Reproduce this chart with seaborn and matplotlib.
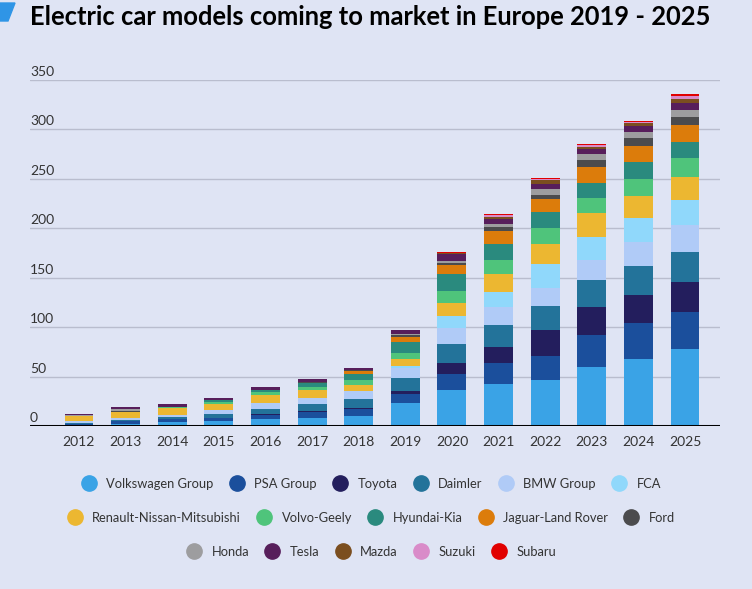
import matplotlib
matplotlib.use("Agg")

import pandas as pd
import matplotlib.pyplot as plt
from matplotlib.lines import Line2D
from matplotlib.patches import Polygon
import seaborn as sns

# ------------------------------------------------------------
# data (models on the market per year)
# ------------------------------------------------------------
YEARS = list(range(2012, 2026))

MAKERS = [
    "Volkswagen Group", "PSA Group", "Toyota", "Daimler", "BMW Group", "FCA",
    "Renault-Nissan-Mitsubishi", "Volvo-Geely", "Hyundai-Kia",
    "Jaguar-Land Rover", "Ford", "Honda", "Tesla", "Mazda", "Suzuki", "Subaru",
]

vw = [0, 2, 4, 5, 7, 8, 10, 23, 36, 42, 47, 60, 68, 78]
psa = [2, 3, 3, 3, 4, 6, 7, 9, 17, 22, 24, 32, 36, 37]
toyota = [0, 0, 0, 0, 1, 1, 1, 3, 11, 16, 26, 28, 29, 31]
daimler = [1, 1, 2, 4, 5, 7, 9, 14, 19, 22, 24, 28, 29, 30]
bmw = [2, 2, 2, 4, 6, 6, 8, 10, 16, 18, 19, 20, 24, 27]
fca = [0, 0, 0, 0, 0, 0, 0, 2, 12, 16, 24, 23, 24, 26]
renault = [5, 6, 7, 6, 8, 8, 6, 7, 13, 18, 20, 24, 23, 23]
volvo = [0, 0, 1, 2, 3, 3, 6, 6, 13, 14, 16, 16, 17, 19]
hyundai = [0, 0, 0, 2, 2, 5, 6, 11, 17, 16, 16, 15, 17, 16]
jlr = [0, 0, 0, 0, 0, 0, 3, 5, 9, 13, 14, 16, 16, 17]
ford = [0, 1, 0, 0, 0, 1, 1, 2, 2, 4, 4, 7, 8, 9]
honda = [1, 2, 0, 0, 0, 0, 0, 1, 2, 3, 6, 6, 6, 7]
tesla = [1, 2, 3, 2, 3, 3, 2, 4, 7, 5, 5, 5, 6, 7]
mazda = [0, 0, 0, 0, 0, 0, 0, 0, 1, 2, 4, 2, 3, 4]
suzuki = [0, 0, 0, 0, 0, 0, 0, 0, 0, 2, 1, 2, 2, 3]
subaru = [0, 0, 0, 0, 0, 0, 0, 0, 1, 1, 1, 1, 1, 2]

COLORS = [
    "#3aa3e6", "#1b4f9c", "#231e5d", "#23739a", "#b0cbf7", "#90d8fb",
    "#ecb731", "#4fc47b", "#2a8a7e", "#dc7c0b", "#4b4b4d", "#9d9d9f",
    "#571e5b", "#7b4e1f", "#d98bc9", "#e10000",
]

Y_TICKS = [0, 50, 100, 150, 200, 250, 300, 350]
TITLE = "Electric car models coming to market in Europe 2019 - 2025"

BG = "#dfe4f4"
TEXT = "#333333"

# ------------------------------------------------------------
# long table for seaborn
# ------------------------------------------------------------
wide = pd.DataFrame(
    dict(zip(MAKERS, [vw, psa, toyota, daimler, bmw, fca, renault, volvo,
                      hyundai, jlr, ford, honda, tesla, mazda, suzuki, subaru])),
    index=YEARS,
)
wide.index.name = "year"
df = wide.reset_index().melt(id_vars="year", var_name="maker", value_name="models")
palette = dict(zip(MAKERS, COLORS))

# ------------------------------------------------------------
# figure
# ------------------------------------------------------------
sns.set_style("white", {"axes.facecolor": BG, "figure.facecolor": BG})
plt.rcParams["font.family"] = ["Lato", "DejaVu Sans"]

fig = plt.figure(figsize=(7.52, 5.89), dpi=100)
fig.patch.set_facecolor(BG)
ax = fig.add_axes([30 / 752, 163 / 589, 690 / 752, 346 / 589])
ax.set_facecolor(BG)

for v in Y_TICKS[1:]:
    ax.axhline(v, color="#b9bdce", lw=1, zorder=0)

# seaborn stacks the first hue level on top, so reverse the order
sns.histplot(
    data=df, x="year", weights="models", hue="maker",
    hue_order=MAKERS[::-1], palette=palette,
    multiple="stack", discrete=True, shrink=0.62,
    linewidth=0, alpha=1, legend=False, ax=ax, zorder=2,
)

ax.axhline(0, color="black", lw=2.2, zorder=3)

ax.set_xlim(YEARS[0] - 1.05, YEARS[-1] + 0.75)
ax.set_ylim(0, 350)
ax.set_xticks(YEARS)
ax.set_xticklabels([str(y) for y in YEARS], fontsize=10, color=TEXT)
ax.tick_params(axis="x", length=0, pad=7)
ax.set_yticks([])
ax.set_xlabel("")
ax.set_ylabel("")
sns.despine(ax=ax, left=True, bottom=True, top=True, right=True)

for v in Y_TICKS:
    ax.text(0, v + 2, str(v), transform=ax.get_yaxis_transform(),
            ha="left", va="bottom", fontsize=10, color=TEXT)

# title + little blue marker in the corner
fig.text(30 / 752, 1 - 17 / 589, TITLE, ha="left", va="center",
         fontsize=18.4, fontweight="bold", color="black")
fig.add_artist(Polygon([[0, 1 - 3 / 589], [15 / 752, 1 - 3 / 589],
                        [8 / 752, 1 - 21 / 589], [0, 1 - 21 / 589]],
                       closed=True, transform=fig.transFigure,
                       color="#2f95e6"))

# legend: three centred rows
rows = [MAKERS[:6], MAKERS[6:11], MAKERS[11:]]
row_y = [1 - 484 / 589, 1 - 518 / 589, 1 - 552 / 589]
for names, yy in zip(rows, row_y):
    handles = [Line2D([], [], marker="o", linestyle="none", markersize=11,
                      markerfacecolor=palette[n], markeredgecolor=palette[n])
               for n in names]
    fig.legend(handles, names, loc="center", bbox_to_anchor=(0.49, yy),
               ncol=len(names), frameon=False, fontsize=9.3,
               handletextpad=0.35, columnspacing=0.8, labelcolor=TEXT)

fig.savefig("out.png", dpi=100, facecolor=BG)
